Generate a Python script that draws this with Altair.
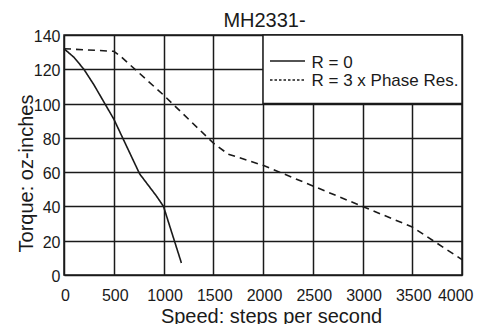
import altair as alt
import pandas as pd

# ---- data ----
speed_r0 = [0, 100, 200, 300, 400, 500, 760, 930, 1000, 1180]
torque_r0 = [132, 127, 120, 111, 101, 91, 59, 46, 40, 7]

speed_r3 = [0, 500, 560, 1000, 1500, 1650, 2000, 3000, 3500, 4000]
torque_r3 = [132, 130.5, 128, 105, 77, 70.5, 64, 40, 28, 9]

x_ticks = [0, 500, 1000, 1500, 2000, 2500, 3000, 3500, 4000]
y_ticks = [0, 20, 40, 60, 80, 100, 120, 140]
series_labels = ["R = 0", "R = 3 x Phase Res."]
chart_title = "MH2331-"

FONT = "Liberation Sans"
INK = "#1a1a1a"

df = pd.DataFrame({
    "speed": speed_r0 + speed_r3,
    "torque": torque_r0 + torque_r3,
    "series": [series_labels[0]] * len(speed_r0) + [series_labels[1]] * len(speed_r3),
})

x_enc = alt.X(
    "speed:Q",
    scale=alt.Scale(domain=[0, 4000], nice=False, zero=False),
    axis=alt.Axis(
        values=x_ticks, format="d", title="Speed: steps per second",
        grid=True, gridColor=INK, gridWidth=1.5, gridOpacity=1,
        domain=False, ticks=False, tickSize=0,
        labelFont=FONT, labelFontSize=16, labelColor=INK,
        labelBaseline="alphabetic", labelPadding=25, labelFlush=False,
        labelOverlap=False,
        labelAlign=alt.expr("datum.value == 4000 ? 'right' : 'center'"),
        labelOffset=alt.expr("datum.value == 4000 ? 11 : 1"),
        titleFont=FONT, titleFontSize=20, titleFontWeight="normal", titleColor=INK,
        titleX=207, titleY=47, titleBaseline="alphabetic", titleAnchor="middle",
        titleAlign="center",
    ),
)
y_enc = alt.Y(
    "torque:Q",
    scale=alt.Scale(domain=[0, 140], nice=False, zero=True),
    axis=alt.Axis(
        values=y_ticks, title="Torque: oz-inches",
        grid=True, gridColor=INK, gridWidth=1.5, gridOpacity=1,
        domain=False, ticks=False, tickSize=0,
        labelFont=FONT, labelFontSize=16, labelColor=INK,
        labelPadding=4, labelOffset=1.5, labelFlush=False, labelOverlap=False,
        titleFont=FONT, titleFontSize=20, titleFontWeight="normal", titleColor=INK,
        titleX=-32, titleY=138, titleAngle=-90, titleBaseline="alphabetic",
        titleAlign="center",
    ),
)

lines = alt.Chart(df).mark_line(color=INK, strokeWidth=1.6).encode(
    x=x_enc,
    y=y_enc,
    strokeDash=alt.StrokeDash(
        "series:N",
        scale=alt.Scale(domain=series_labels, range=[[1, 0], [7, 5]]),
        legend=None,
    ),
    detail="series:N",
)

one = alt.Data(values=[{"a": 1}])

legend_box = alt.Chart(one).mark_rect(
    fill="white", stroke=INK, strokeWidth=1.5
).encode(
    x=alt.value(199), x2=alt.value(398), y=alt.value(0), y2=alt.value(68.6)
)

leg_line0 = alt.Chart(one).mark_rule(
    color=INK, strokeWidth=1.6
).encode(x=alt.value(206), x2=alt.value(241), y=alt.value(26))

leg_line1 = alt.Chart(one).mark_rule(
    color=INK, strokeWidth=1.3, strokeDash=[2.5, 2]
).encode(x=alt.value(206), x2=alt.value(240), y=alt.value(45))

leg_text0 = alt.Chart(alt.Data(values=[{"label": series_labels[0]}])).mark_text(
    align="left", baseline="alphabetic", font=FONT, fontSize=17, color=INK
).encode(text="label:N", x=alt.value(247.5), y=alt.value(33.3))

leg_text1 = alt.Chart(alt.Data(values=[{"label": series_labels[1]}])).mark_text(
    align="left", baseline="alphabetic", font=FONT, fontSize=17, color=INK
).encode(text="label:N", x=alt.value(247.5), y=alt.value(51))

title_text = alt.Chart(alt.Data(values=[{"t": chart_title}])).mark_text(
    align="center", baseline="alphabetic", font=FONT, fontSize=20, color=INK
).encode(text="t:N", x=alt.value(200.5), y=alt.value(-8.3))

chart = alt.layer(
    lines, legend_box, leg_line0, leg_line1, leg_text0, leg_text1, title_text
).properties(
    width=398,
    height=240,
    autosize=alt.AutoSizeParams(type="none"),
    padding={"left": 56, "top": 27, "right": 12, "bottom": 49},
    background="white",
).configure_view(
    stroke=INK, strokeWidth=1.5
)

chart.save("out.html", embed_options={"renderer": "svg", "actions": False})
